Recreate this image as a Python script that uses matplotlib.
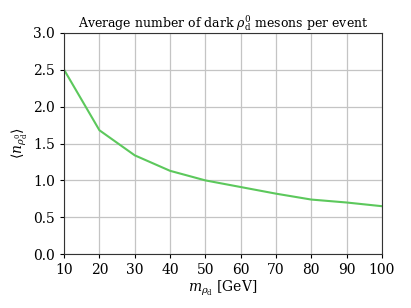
import matplotlib
matplotlib.use('Agg')
import matplotlib.pyplot as plt

# Dark meson mass points and average multiplicity
masses = [10, 20, 30, 40, 50, 60, 70, 80, 90, 100]
n_rho = [2.50, 1.68, 1.34, 1.13, 1.00, 0.91, 0.82, 0.74, 0.70, 0.65]

plt.rcParams['font.family'] = 'DejaVu Serif'
plt.rcParams['mathtext.fontset'] = 'dejavuserif'

fig = plt.figure(figsize=(4.11, 3.08), dpi=100)
ax = fig.add_axes([0.156, 0.175, 0.773, 0.718])

ax.plot(masses, n_rho, color='#5cc85c', linewidth=1.5)
ax.set_xlim(10, 100)
ax.set_ylim(0, 3)
ax.set_xticks(range(10, 101, 10))
ax.set_yticks([0.0, 0.5, 1.0, 1.5, 2.0, 2.5, 3.0])
ax.grid(True, color='#c4c4c4', linewidth=0.9)
ax.set_axisbelow(True)
ax.tick_params(labelsize=10, length=3)
for s in ax.spines.values():
    s.set_color('#333333')

ax.set_title(r'Average number of dark $\rho_\mathrm{d}^0$ mesons per event', fontsize=9, pad=3)
ax.set_xlabel(r'$m_{\rho_\mathrm{d}}$ [GeV]', fontsize=10, labelpad=1)
ax.set_ylabel(r'$\langle n_{\rho_\mathrm{d}^0}\rangle$', fontsize=10, labelpad=2)

fig.savefig('out.png', dpi=100)
